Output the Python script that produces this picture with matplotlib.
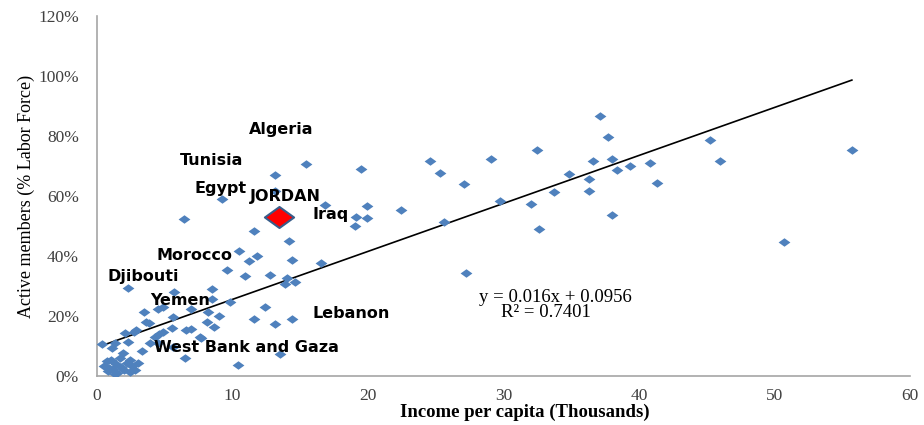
import matplotlib.pyplot as plt
import numpy as np
from matplotlib.path import Path
from matplotlib.ticker import PercentFormatter

# income per capita (thousands) and active members (% of labor force)
income = [55.7, 50.7, 45.2, 46.0, 40.8, 41.3, 39.3, 38.4, 37.7, 38.0,
          38.0, 37.1, 36.6, 36.3, 36.3, 34.8, 33.7, 32.5, 32.6, 32.0,
          29.7, 29.1, 27.1, 27.2, 25.6, 25.3, 24.6, 22.4, 19.5, 15.4,
          19.9, 16.8, 19.9, 19.1, 19.0, 16.5, 13.1, 13.1, 9.2, 6.4,
          11.6, 14.2, 10.5, 11.8, 11.2, 14.4, 9.6, 10.9, 12.8, 14.0,
          13.9, 14.6, 12.4, 11.6, 13.1, 14.4, 13.5, 10.4, 7.7, 8.5,
          5.7, 2.3, 8.5, 9.8, 3.5, 4.5, 4.9, 6.9, 8.2, 9.0,
          8.1, 8.6, 6.9, 3.8, 5.6, 3.6, 2.7, 2.9, 2.1, 4.3,
          4.6, 4.9, 5.5, 6.6, 7.6, 3.9, 4.5, 5.6, 6.5, 3.3,
          2.3, 0.35, 1.1, 1.3, 1.9, 2.4, 0.5, 0.8, 1.0, 1.2,
          1.4, 1.5, 1.7, 1.8, 2.0, 2.2, 2.4, 2.6, 2.8, 0.9,
          1.3, 3.0, 0.7]
members = [75.3, 44.8, 78.8, 71.6, 70.9, 64.2, 70.0, 68.6, 79.6, 72.2,
           53.7, 86.8, 71.6, 65.7, 61.7, 67.3, 61.4, 75.2, 48.9, 57.3,
           58.4, 72.4, 64.0, 34.4, 51.3, 67.6, 71.8, 55.3, 68.9, 70.8,
           56.8, 56.9, 52.8, 52.9, 49.9, 37.6, 67.0, 61.8, 59.1, 52.4,
           48.4, 45.1, 41.7, 40.1, 38.3, 38.7, 35.3, 33.3, 33.6, 32.6,
           30.6, 31.2, 22.9, 18.9, 17.4, 18.9, 7.3, 3.7, 12.6, 29.1,
           27.9, 29.3, 25.6, 24.7, 21.4, 22.3, 22.9, 22.2, 21.4, 20.0,
           18.1, 16.4, 15.7, 17.6, 19.6, 17.9, 14.8, 15.3, 14.2, 13.1,
           13.9, 14.8, 15.9, 15.3, 13.1, 10.9, 11.1, 9.8, 6.1, 8.3,
           11.2, 10.6, 9.2, 10.9, 7.6, 5.3, 3.5, 1.5, 5.5, 2.5,
           4.0, 1.0, 6.0, 3.0, 2.0, 4.5, 1.2, 3.5, 2.0, 2.8,
           0.8, 4.2, 5.0]

jordan = (13.4, 53.1)

slope, intercept, r2 = 0.016, 0.0956, 0.7401

country_names = ["Algeria", "Tunisia", "Egypt", "JORDAN", "Iraq", "Morocco",
                 "Djibouti", "Yemen", "Lebanon", "West Bank and Gaza"]
label_x = [11.2, 6.1, 7.2, 11.3, 15.9, 4.4, 0.8, 3.9, 15.9, 4.2]
label_y = [82.2, 72.0, 62.6, 60.0, 53.7, 40.3, 33.1, 25.1, 20.7, 9.6]

# flattened diamond marker
diamond = Path([(-1, 0), (0, 0.72), (1, 0), (0, -0.72), (-1, 0)],
               [Path.MOVETO, Path.LINETO, Path.LINETO, Path.LINETO, Path.CLOSEPOLY])

fig = plt.figure(figsize=(9.24, 4.25), dpi=100)
ax = fig.add_axes([0.105, 0.1153, 0.88, 0.8467])

x = np.array(income)
y = np.array(members) / 100
ax.plot(x, y, linestyle='none', marker=diamond, markersize=8.5,
        color='#4F81BD', markeredgewidth=0, zorder=3)

# linear trend line
xt = np.array([x.min(), x.max()])
ax.plot(xt, slope * xt + intercept, color='black', linewidth=1.2, zorder=2)

ax.plot(jordan[0], jordan[1] / 100, linestyle='none', marker=diamond,
        markersize=21, color='#FF0000', markeredgecolor='#385D8A',
        markeredgewidth=1.5, zorder=4)

for name, lx, ly in zip(country_names, label_x, label_y):
    ax.text(lx, ly / 100, name, fontsize=11.5, fontweight='bold',
            family='DejaVu Sans', ha='left', va='center', zorder=5)

ax.text(28.2, 0.263, f"y = {slope}x + {intercept}", fontsize=13.5,
        family='Liberation Serif', ha='left', va='center')
ax.text(29.8, 0.211, f"R² = {r2}", fontsize=13.5,
        family='Liberation Serif', ha='left', va='center')

ax.set_xlim(0, 60)
ax.set_ylim(0, 1.2)
ax.set_xticks(np.arange(0, 61, 10))
ax.set_yticks(np.arange(0, 1.21, 0.2))
ax.yaxis.set_major_formatter(PercentFormatter(1.0, decimals=0))
ax.tick_params(length=0, labelsize=12.5, labelcolor='#404040')
ax.tick_params(axis='x', pad=9)
ax.tick_params(axis='y', pad=13)
for lab in ax.get_xticklabels() + ax.get_yticklabels():
    lab.set_family('Liberation Serif')

for side in ['top', 'right']:
    ax.spines[side].set_visible(False)
for side in ['left', 'bottom']:
    ax.spines[side].set_color('#A6A6A6')
    ax.spines[side].set_linewidth(1.2)

ax.set_xlabel("Income per capita (Thousands)", fontsize=13.5, fontweight='bold',
              family='Liberation Serif')
ax.xaxis.set_label_coords(0.526, -0.077)
ax.set_ylabel("Active members (% Labor Force)", fontsize=13,
              family='Liberation Serif', labelpad=2)

fig.savefig("out.png", dpi=100)
